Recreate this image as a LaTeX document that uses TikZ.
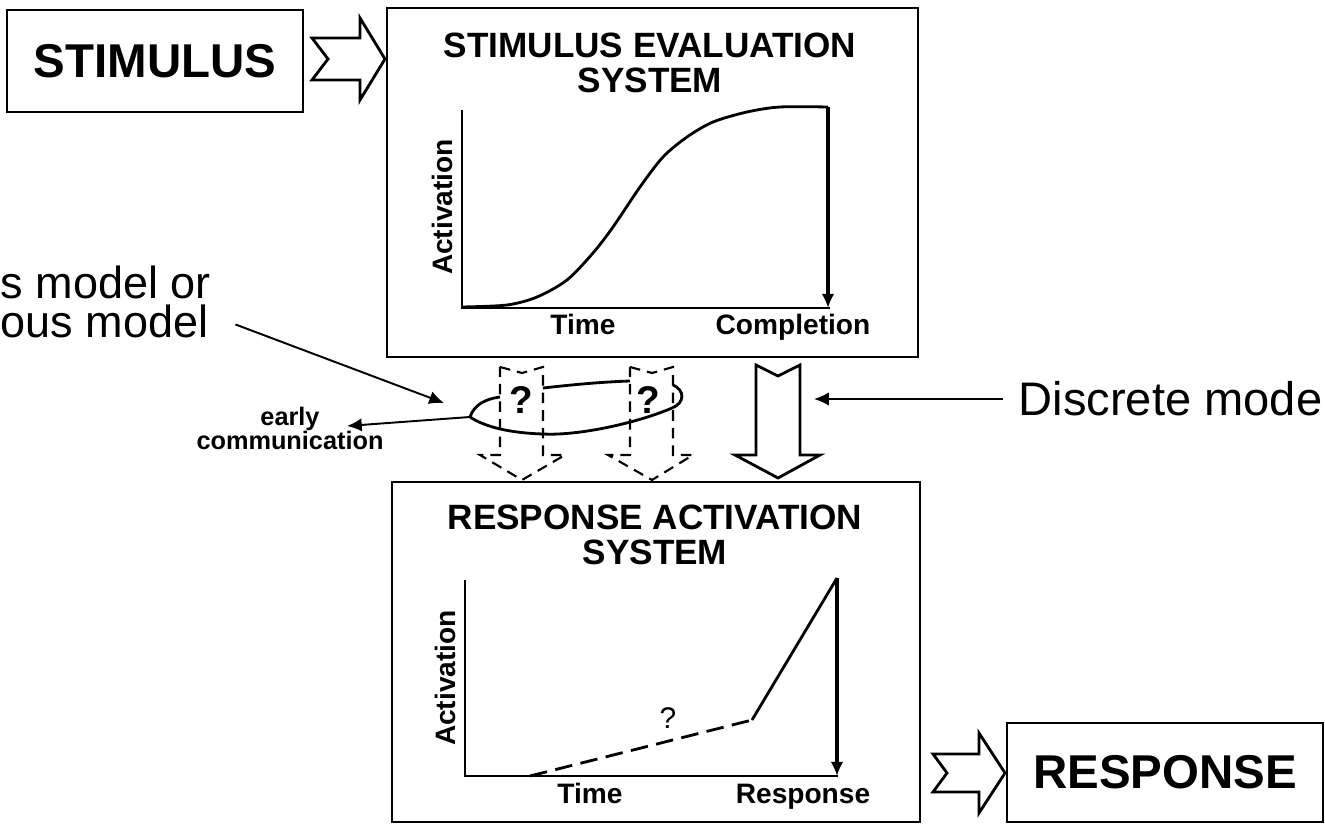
\documentclass[tikz,border=0pt]{standalone}
\usepackage{fontspec}
\setmainfont{Liberation Sans}
\usetikzlibrary{arrows.meta,calc}

\begin{document}
\begin{tikzpicture}
\tikzset{box/.style={draw, rectangle, line width=0.7pt, inner sep=0pt},
  blockarr/.style={draw, line width=0.8pt, line join=miter},
  dasharr/.style={draw, line width=0.6pt, line join=miter, dash pattern=on 3pt off 2pt},
  axis/.style={line width=0.6pt},
  curve/.style={line width=0.8pt},
  note/.style={line width=0.55pt, -{Latex[length=4.2pt,width=3.8pt]}},
  drop/.style={line width=0.9pt, -{Latex[length=4pt,width=3.6pt]}},
  lbl/.style={font=\fontsize{8}{8}\selectfont\bfseries, inner sep=0pt},
  title/.style={font=\fontsize{10}{10}\selectfont\bfseries, align=center, inner sep=0pt},
  big/.style={font=\fontsize{13.5}{13.5}\selectfont\bfseries},
  remark/.style={font=\fontsize{12.8}{11.1}\selectfont, inner sep=0pt}}

\useasboundingbox (0,0) rectangle (13.25,-8.29);

% Stimulus and response boxes
\node[box, big, minimum width=2.96cm, minimum height=1.02cm] (stim) at (1.55,-0.61) {STIMULUS};
\node[box, big, minimum width=3.16cm, minimum height=0.99cm] (resp) at (11.65,-7.725) {RESPONSE};

% Systems
\node[box, minimum width=5.31cm, minimum height=3.49cm] (ses) at (6.525,-1.825) {};
\node[title] (sestitle) at (6.50,-0.625) {STIMULUS EVALUATION\\SYSTEM};
\node[box, minimum width=5.28cm, minimum height=3.40cm] (ras) at (6.56,-6.52) {};
\node[title] (rastitle) at (6.55,-5.35) {RESPONSE ACTIVATION\\SYSTEM};

% Evaluation plot
\draw[axis] (4.62,-1.10) -- (4.62,-3.08) -- (8.30,-3.08);
\draw[curve] plot[smooth] coordinates {(4.62,-3.07) (5.07,-3.05) (5.37,-2.97)
  (5.67,-2.80) (5.93,-2.53) (6.13,-2.27) (6.40,-1.87) (6.63,-1.57) (6.87,-1.37)
  (7.13,-1.22) (7.47,-1.12) (7.80,-1.07) (8.28,-1.07)};
\draw[drop] (8.28,-1.07) -- (8.28,-3.08);
\node[lbl, rotate=90] (sesact) at (4.42,-2.07) {Activation};
\node[lbl, anchor=base] (sestime) at (5.83,-3.35) {Time};
\node[lbl, anchor=base] (sescompl) at (7.93,-3.35) {Completion};

% Response plot
\draw[axis] (4.65,-5.80) -- (4.65,-7.76) -- (8.38,-7.76);
\draw[curve] (4.65,-7.76) -- (5.30,-7.76);
\draw[curve, dash pattern=on 5pt off 2.4pt] (5.30,-7.76) -- (7.52,-7.20);
\draw[curve] (7.52,-7.20) -- (8.37,-5.78);
\draw[drop] (8.37,-5.78) -- (8.37,-7.76);
\node[font=\fontsize{8.5}{8.5}\selectfont, inner sep=0pt] (rasq) at (6.68,-7.18) {?};
\node[lbl, rotate=90] (rasact) at (4.45,-6.78) {Activation};
\node[lbl, anchor=base] (rastime) at (5.90,-8.03) {Time};
\node[lbl, anchor=base] (rasresp) at (8.03,-8.03) {Response};

% Block arrows
\draw[blockarr] (3.12,-0.38) -- (3.28,-0.59) -- (3.12,-0.80) -- (3.60,-0.80)
  -- (3.60,-1.00) -- (3.85,-0.59) -- (3.60,-0.18) -- (3.60,-0.38) -- cycle;
\draw[blockarr] (9.33,-7.54) -- (9.47,-7.73) -- (9.33,-7.92) -- (9.79,-7.92)
  -- (9.79,-8.13) -- (10.05,-7.73) -- (9.79,-7.33) -- (9.79,-7.54) -- cycle;
\draw[blockarr] (7.56,-3.65) -- (7.78,-3.76) -- (8.00,-3.65) -- (8.00,-4.55)
  -- (8.20,-4.55) -- (7.78,-4.78) -- (7.35,-4.55) -- (7.56,-4.55) -- cycle;
\draw[dasharr] (5.00,-3.67) -- (5.22,-3.73) -- (5.43,-3.67) -- (5.43,-4.55)
  -- (5.65,-4.55) -- (5.22,-4.80) -- (4.80,-4.55) -- (5.00,-4.55) -- cycle;
\draw[dasharr] (6.30,-3.67) -- (6.52,-3.73) -- (6.73,-3.67) -- (6.73,-4.55)
  -- (6.93,-4.55) -- (6.52,-4.80) -- (6.08,-4.55) -- (6.30,-4.55) -- cycle;
\node[font=\fontsize{11}{11}\selectfont\bfseries, inner sep=0pt] (q1) at (5.21,-4.00) {?};
\node[font=\fontsize{11}{11}\selectfont\bfseries, inner sep=0pt] (q2) at (6.48,-4.00) {?};

% Lasso round the early transmission
\coordinate (split) at (4.70,-4.17);
\draw[curve] (split) .. controls (4.74,-4.05) and (4.85,-3.99) .. (5.00,-3.97);
\draw[curve] (5.43,-3.88) .. controls (5.70,-3.85) and (6.00,-3.82) .. (6.30,-3.81);
\draw[curve] (6.73,-3.85) .. controls (6.85,-3.90) and (6.85,-4.03) .. (6.72,-4.08)
  .. controls (6.40,-4.22) and (5.80,-4.36) .. (5.43,-4.34)
  .. controls (5.10,-4.33) and (4.85,-4.27) .. (split);

% Labels
\node[font=\fontsize{7.2}{6.9}\selectfont\bfseries, align=center, anchor=north, inner sep=0pt]
  (ecomm) at (2.90,-4.06) {early\\communication};
\node[remark, align=left, anchor=north west] (cont) at (0,-2.65) {s model or\\ous model};
\node[remark, font=\fontsize{13.4}{13.4}\selectfont, anchor=west] (discrete) at (10.18,-3.99) {Discrete mode};

% Connections
\coordinate (ectip) at (3.47,-4.26);
\coordinate (lastip) at (4.44,-4.03);
\coordinate (disctip) at (8.14,-3.99);
\draw[note] (split) -- (ectip);
\draw[note] ($(cont.south east)+(0.24,0.14)$) -- (lastip);
\draw[note] ([xshift=-0.15cm]discrete.west) -- (disctip);

\end{tikzpicture}
\end{document}
